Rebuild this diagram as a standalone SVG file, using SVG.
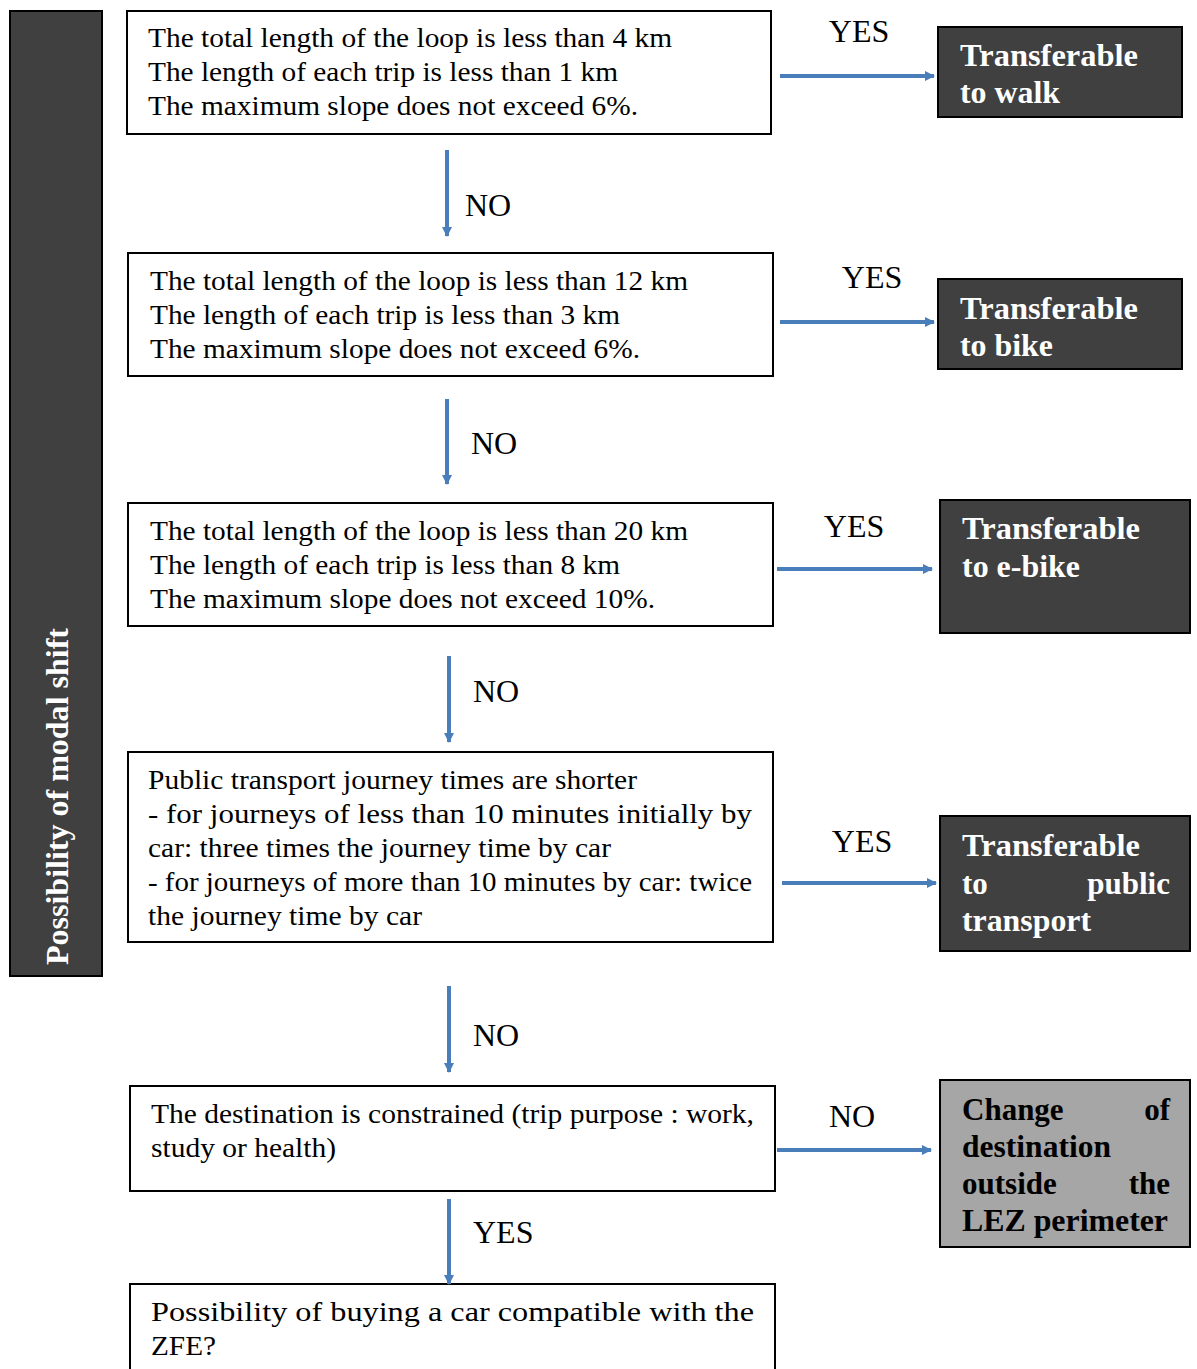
<svg xmlns="http://www.w3.org/2000/svg" width="1197" height="1369" viewBox="0 0 1197 1369">
<style>
.box{fill:#fff;stroke:#000;stroke-width:2}
.dark{fill:#404040;stroke:#000;stroke-width:2}
.grey{fill:#a6a6a6;stroke:#000;stroke-width:2}
.t{font-family:"Liberation Serif","Times New Roman",serif;font-size:27px;fill:#000}
.lbl{font-family:"Liberation Serif","Times New Roman",serif;font-size:32px;fill:#000}
.bw{font-family:"Liberation Serif","Times New Roman",serif;font-size:31px;font-weight:bold;fill:#fff}
.bb{font-family:"Liberation Serif","Times New Roman",serif;font-size:31px;font-weight:bold;fill:#000}
.arr{stroke:#4a7ebb;stroke-width:4;fill:none;marker-end:url(#ah)}
</style>
<defs>
<marker id="ah" viewBox="0 0 10 10" refX="9" refY="5" markerWidth="2.6" markerHeight="2.6" orient="auto" markerUnits="strokeWidth">
<path d="M0,0 L10,5 L0,10 z" fill="#4a7ebb"/>
</marker>
</defs>
<rect width="1197" height="1369" fill="#fff"/>

<g id="sidebar">
<rect class="dark" x="10" y="11" width="92" height="965"/>
<text class="bw" transform="translate(68,965) rotate(-90)" textLength="337" lengthAdjust="spacingAndGlyphs">Possibility of modal shift</text>
</g>

<g id="box1">
<rect class="box" x="127" y="11" width="644" height="123"/>
<text class="t" x="148" y="47" textLength="524" lengthAdjust="spacingAndGlyphs">The total length of the loop is less than 4 km</text>
<text class="t" x="148" y="81" textLength="470" lengthAdjust="spacingAndGlyphs">The length of each trip is less than 1 km</text>
<text class="t" x="148" y="115" textLength="490" lengthAdjust="spacingAndGlyphs">The maximum slope does not exceed 6%.</text>
</g>
<g id="box2">
<rect class="box" x="128" y="253" width="645" height="123"/>
<text class="t" x="150" y="290" textLength="538" lengthAdjust="spacingAndGlyphs">The total length of the loop is less than 12 km</text>
<text class="t" x="150" y="324" textLength="470" lengthAdjust="spacingAndGlyphs">The length of each trip is less than 3 km</text>
<text class="t" x="150" y="358" textLength="490" lengthAdjust="spacingAndGlyphs">The maximum slope does not exceed 6%.</text>
</g>
<g id="box3">
<rect class="box" x="128" y="503" width="645" height="123"/>
<text class="t" x="150" y="540" textLength="538" lengthAdjust="spacingAndGlyphs">The total length of the loop is less than 20 km</text>
<text class="t" x="150" y="574" textLength="470" lengthAdjust="spacingAndGlyphs">The length of each trip is less than 8 km</text>
<text class="t" x="150" y="608" textLength="505" lengthAdjust="spacingAndGlyphs">The maximum slope does not exceed 10%.</text>
</g>
<g id="box4">
<rect class="box" x="128" y="752" width="645" height="190"/>
<text class="t" x="148" y="789" textLength="489" lengthAdjust="spacingAndGlyphs">Public transport journey times are shorter</text>
<text class="t" x="148" y="823" textLength="604" lengthAdjust="spacingAndGlyphs">- for journeys of less than 10 minutes initially by</text>
<text class="t" x="148" y="857" textLength="463" lengthAdjust="spacingAndGlyphs">car: three times the journey time by car</text>
<text class="t" x="148" y="891" textLength="604" lengthAdjust="spacingAndGlyphs">- for journeys of more than 10 minutes by car: twice</text>
<text class="t" x="148" y="925" textLength="274" lengthAdjust="spacingAndGlyphs">the journey time by car</text>
</g>
<g id="box5">
<rect class="box" x="130" y="1086" width="645" height="105"/>
<text class="t" x="151" y="1123" textLength="603" lengthAdjust="spacingAndGlyphs">The destination is constrained (trip purpose : work,</text>
<text class="t" x="151" y="1157" textLength="185" lengthAdjust="spacingAndGlyphs">study or health)</text>
</g>
<g id="box6">
<rect class="box" x="130" y="1284" width="645" height="100"/>
<text class="t" x="151" y="1321" textLength="603" lengthAdjust="spacingAndGlyphs">Possibility of buying a car compatible with the</text>
<text class="t" x="151" y="1355" textLength="65" lengthAdjust="spacingAndGlyphs">ZFE?</text>
</g>

<g id="walk">
<rect class="dark" x="938" y="27" width="244" height="90"/>
<text class="bw" x="960" y="66" textLength="178" lengthAdjust="spacingAndGlyphs">Transferable</text>
<text class="bw" x="960" y="103" textLength="100" lengthAdjust="spacingAndGlyphs">to walk</text>
</g>
<g id="bike">
<rect class="dark" x="938" y="279" width="244" height="90"/>
<text class="bw" x="960" y="319" textLength="178" lengthAdjust="spacingAndGlyphs">Transferable</text>
<text class="bw" x="960" y="356" textLength="93" lengthAdjust="spacingAndGlyphs">to bike</text>
</g>
<g id="ebike">
<rect class="dark" x="940" y="500" width="250" height="133"/>
<text class="bw" x="962" y="539" textLength="178" lengthAdjust="spacingAndGlyphs">Transferable</text>
<text class="bw" x="962" y="577" textLength="118" lengthAdjust="spacingAndGlyphs">to e-bike</text>
</g>
<g id="pt">
<rect class="dark" x="940" y="816" width="250" height="135"/>
<text class="bw" x="962" y="856" textLength="178" lengthAdjust="spacingAndGlyphs">Transferable</text>
<text class="bw" x="962" y="894">to</text>
<text class="bw" x="1170" y="894" text-anchor="end">public</text>
<text class="bw" x="962" y="931" textLength="129" lengthAdjust="spacingAndGlyphs">transport</text>
</g>
<g id="change">
<rect class="grey" x="940" y="1080" width="250" height="167"/>
<text class="bb" x="962" y="1120">Change</text>
<text class="bb" x="1170" y="1120" text-anchor="end">of</text>
<text class="bb" x="962" y="1157" textLength="149" lengthAdjust="spacingAndGlyphs">destination</text>
<text class="bb" x="962" y="1194">outside</text>
<text class="bb" x="1170" y="1194" text-anchor="end">the</text>
<text class="bb" x="962" y="1231" textLength="206" lengthAdjust="spacingAndGlyphs">LEZ perimeter</text>
</g>

<g id="connectors">
<line class="arr" x1="780" y1="76" x2="934" y2="76"/>
<line class="arr" x1="780" y1="322" x2="934" y2="322"/>
<line class="arr" x1="777" y1="569" x2="932" y2="569"/>
<line class="arr" x1="782" y1="883" x2="936" y2="883"/>
<line class="arr" x1="777" y1="1150" x2="931" y2="1150"/>
<line class="arr" x1="447" y1="150" x2="447" y2="236"/>
<line class="arr" x1="447" y1="399" x2="447" y2="484"/>
<line class="arr" x1="449" y1="656" x2="449" y2="742"/>
<line class="arr" x1="449" y1="986" x2="449" y2="1072"/>
<line class="arr" x1="449" y1="1199" x2="449" y2="1284"/>
<text class="lbl" x="859" y="42" text-anchor="middle">YES</text>
<text class="lbl" x="872" y="288" text-anchor="middle">YES</text>
<text class="lbl" x="854" y="537" text-anchor="middle">YES</text>
<text class="lbl" x="862" y="852" text-anchor="middle">YES</text>
<text class="lbl" x="852" y="1127" text-anchor="middle">NO</text>
<text class="lbl" x="465" y="216">NO</text>
<text class="lbl" x="471" y="454">NO</text>
<text class="lbl" x="473" y="702">NO</text>
<text class="lbl" x="473" y="1046">NO</text>
<text class="lbl" x="473" y="1243">YES</text>
</g>
</svg>
